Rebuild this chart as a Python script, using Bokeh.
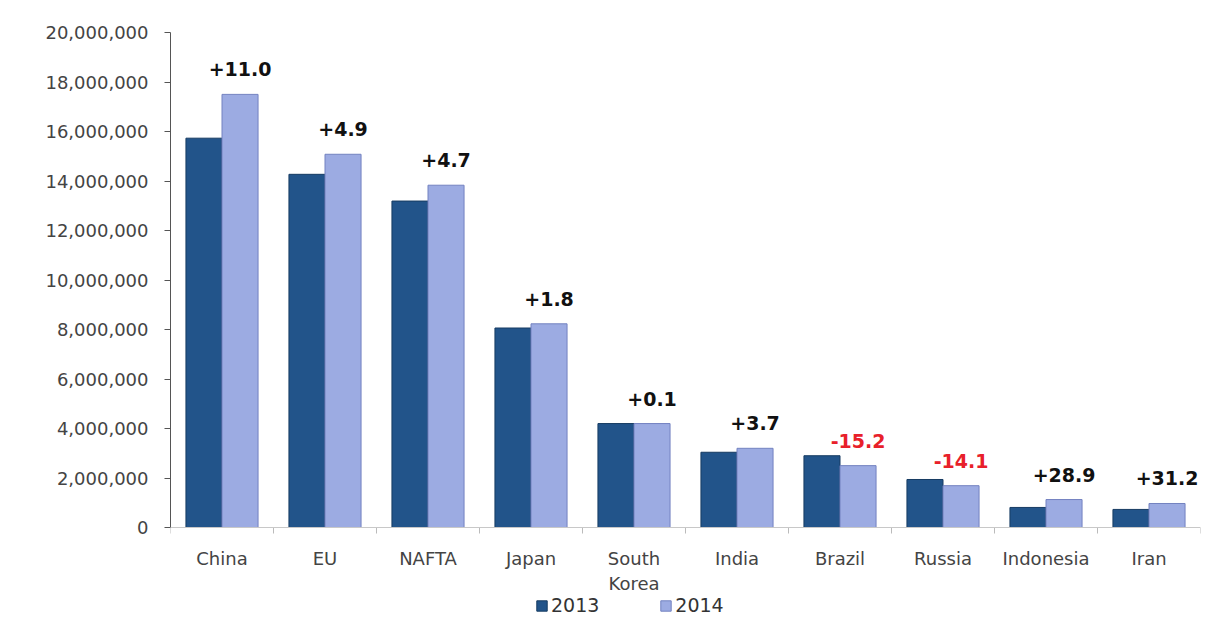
from bokeh.plotting import figure
from bokeh.models import (ColumnDataSource, FixedTicker, NumeralTickFormatter,
                          Range1d, Legend, LegendItem, Span)
from bokeh.embed import file_html
from bokeh.resources import INLINE
from bokeh.core.properties import value

categories = ["China", "EU", "NAFTA", "Japan", "South\nKorea", "India",
              "Brazil", "Russia", "Indonesia", "Iran"]
v2013 = [15730000, 14270000, 13190000, 8060000, 4200000, 3040000,
         2900000, 1940000, 810000, 730000]
v2014 = [17500000, 15080000, 13830000, 8230000, 4200000, 3200000,
         2500000, 1690000, 1130000, 970000]
pct = [11.0, 4.9, 4.7, 1.8, 0.1, 3.7, -15.2, -14.1, 28.9, 31.2]
years = ["2013", "2014"]

n = len(categories)
centers = [i + 0.5 for i in range(n)]
bounds = list(range(n + 1))
bw = 0.35

Y_TOP = 20000000
FRAME_H = 589          # 32 px top border, frame runs to the bottom edge
AXIS_H = 495           # pixels spanned by 0 .. 20,000,000
per_px = Y_TOP / AXIS_H
y_lo = -(FRAME_H - AXIS_H) * per_px

src = ColumnDataSource(dict(
    x13=[c - bw / 2 for c in centers],
    x14=[c + bw / 2 for c in centers],
    v13=v2013, v14=v2014,
    lab=[("+" if p >= 0 else "") + f"{p:.1f}" for p in pct],
    col=["#111111" if p >= 0 else "#e8202a" for p in pct],
))
cat_src = ColumnDataSource(dict(x=centers, y=[0] * n, t=categories))
tick_src = ColumnDataSource(dict(x=bounds, y0=[0] * len(bounds),
                                 y1=[-6 * per_px] * len(bounds)))

p = figure(width=1210, height=621, frame_width=1030, frame_height=FRAME_H,
           output_backend="svg", toolbar_location=None,
           x_range=Range1d(0, n), y_range=Range1d(y_lo, Y_TOP),
           min_border_left=170, min_border_right=10, min_border_top=32,
           min_border_bottom=0)
p.outline_line_color = None
p.xgrid.grid_line_color = None
p.ygrid.grid_line_color = None
p.background_fill_color = "white"
p.xaxis.visible = False

r13 = p.vbar(x="x13", top="v13", width=bw, bottom=0, source=src,
             fill_color="#22548a", line_color="#163b62", line_width=1)
r14 = p.vbar(x="x14", top="v14", width=bw, bottom=0, source=src,
             fill_color="#9cabe2", line_color="#7382c0", line_width=1)

p.text(x="x14", y="v14", text="lab", source=src, text_color="col",
       text_font=value("DejaVu Sans"), text_font_style="bold",
       text_font_size="19px", text_align="center", text_baseline="bottom",
       y_offset=-18)

# category axis along zero
p.add_layout(Span(location=0, dimension="width", line_color="#c8c8c8",
                  line_width=1))
p.segment(x0="x", y0="y0", x1="x", y1="y1", source=tick_src,
          line_color="#bbbbbb", line_width=1)
p.text(x="x", y="y", text="t", source=cat_src, text_color="#444444",
       text_font=value("DejaVu Sans"), text_font_size="18px",
       text_align="center", text_baseline="top", text_line_height=1.2,
       y_offset=20)

# y axis
p.yaxis.bounds = (0, Y_TOP)
p.yaxis.ticker = FixedTicker(ticks=list(range(0, Y_TOP + 1, 2000000)))
p.yaxis.formatter = NumeralTickFormatter(format="0,0")
p.yaxis.axis_line_color = "#555555"
p.yaxis.major_tick_line_color = "#555555"
p.yaxis.major_tick_out = 6
p.yaxis.major_tick_in = 0
p.yaxis.minor_tick_line_color = None
p.yaxis.major_label_text_font = "DejaVu Sans"
p.yaxis.major_label_text_font_size = "18px"
p.yaxis.major_label_text_color = "#444444"
p.yaxis.major_label_standoff = 16

legend = Legend(items=[LegendItem(label=years[0], renderers=[r13]),
                       LegendItem(label=years[1], renderers=[r14])],
                orientation="horizontal", location=(365, 5),
                label_text_font="DejaVu Sans", label_text_font_size="19px",
                label_text_color="#333333", glyph_width=13, glyph_height=13,
                spacing=60, padding=0, margin=0, label_standoff=3,
                label_height=16, border_line_color=None,
                background_fill_alpha=0)
p.add_layout(legend, "center")

open("out.html", "w").write(file_html(p, INLINE))
